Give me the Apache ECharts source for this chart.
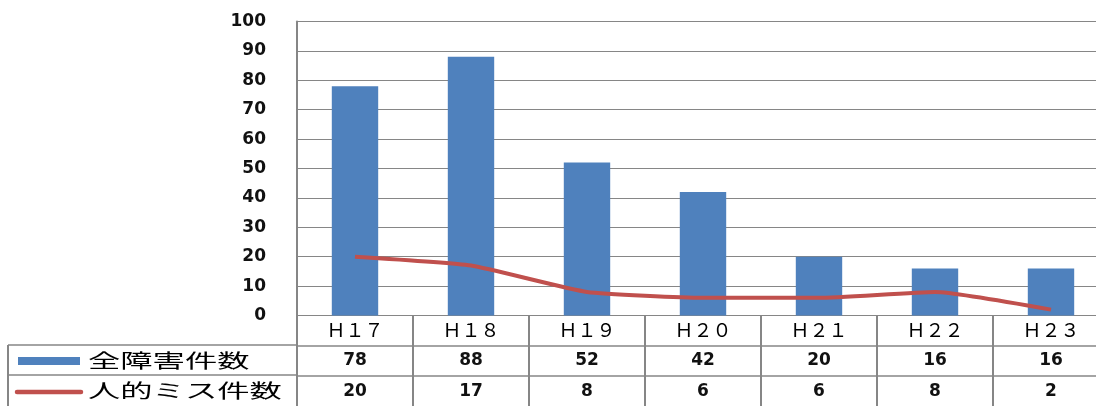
<!DOCTYPE html>
<html>
<head>
<meta charset="utf-8">
<script src="https://cdn.jsdelivr.net/npm/echarts@6/dist/echarts.min.js"></script>
<style>
html,body{margin:0;padding:0;background:#fff;}
#chart{width:1096px;height:406px;}
</style>
</head>
<body>
<div id="chart"></div>
<script>
const categories = ['Ｈ１７','Ｈ１８','Ｈ１９','Ｈ２０','Ｈ２１','Ｈ２２','Ｈ２３'];
const allFaults = [78, 88, 52, 42, 20, 16, 16];
const humanErrors = [20, 17, 8, 6, 6, 8, 2];
const seriesNames = ['全障害件数', '人的ミス件数'];
const yMin = 0, yMax = 100, yStep = 10;

const gray = '#868686';
const blue = '#4F81BD';
const red = '#C0504D';
const numFont = 'DejaVu Sans';
const jpFont = 'Noto Sans CJK JP';

const chart = echarts.init(document.getElementById('chart'));
chart.setOption({
  animation: false,
  backgroundColor: '#fff',
  grid: {left: 297, top: 21.5, right: -13, bottom: 90.5, containLabel: false, outerBoundsMode: 'none'},
  xAxis: [
    {
      type: 'category', data: categories, position: 'bottom',
      axisLine: {lineStyle: {color: gray, width: 1}},
      axisTick: {show: true, length: 91, lineStyle: {color: gray, width: 2}},
      axisLabel: {fontFamily: jpFont, fontSize: 19, color: '#000', margin: 5}
    },
    {
      type: 'category', data: categories, position: 'bottom', offset: 30,
      axisLine: {lineStyle: {color: gray, width: 1.5}},
      axisTick: {show: false},
      axisLabel: {fontFamily: numFont, fontWeight: 'bold', fontSize: 17, color: '#111', margin: 7,
        formatter: (v, i) => String(allFaults[i])}
    },
    {
      type: 'category', data: categories, position: 'bottom', offset: 60,
      axisLine: {lineStyle: {color: gray, width: 1.5}},
      axisTick: {show: false},
      axisLabel: {fontFamily: numFont, fontWeight: 'bold', fontSize: 17, color: '#111', margin: 8,
        formatter: (v, i) => String(humanErrors[i])}
    }
  ],
  yAxis: {
    type: 'value', min: yMin, max: yMax, interval: yStep,
    axisLine: {show: true, lineStyle: {color: gray, width: 2}},
    axisTick: {show: false},
    splitLine: {lineStyle: {color: gray, width: 1}},
    axisLabel: {fontFamily: numFont, fontWeight: 'bold', fontSize: 17, color: '#111', margin: 31}
  },
  series: [
    {
      name: seriesNames[0], type: 'bar', data: allFaults, xAxisIndex: 0,
      barWidth: '40%', itemStyle: {color: blue}
    },
    {
      name: seriesNames[1], type: 'line', data: humanErrors, xAxisIndex: 0,
      smooth: 0.15, symbol: 'none', lineStyle: {color: red, width: 4}, z: 5
    }
  ],
  graphic: [
    {type: 'line', shape: {x1: 8, y1: 345, x2: 297, y2: 345}, style: {stroke: gray, lineWidth: 1.5}},
    {type: 'line', shape: {x1: 8, y1: 375, x2: 297, y2: 375}, style: {stroke: gray, lineWidth: 1.5}},
    {type: 'line', shape: {x1: 8, y1: 345, x2: 8, y2: 406}, style: {stroke: gray, lineWidth: 2}},
    {type: 'rect', shape: {x: 18, y: 357, width: 62, height: 8}, style: {fill: blue}},
    {type: 'line', shape: {x1: 17, y1: 392, x2: 81, y2: 392}, style: {stroke: red, lineWidth: 4.5, lineCap: 'round'}},
    {type: 'text', x: 88, y: 361, scaleX: 1.7,
      style: {text: seriesNames[0], fontFamily: jpFont, fontSize: 19, fill: '#000', verticalAlign: 'middle'}},
    {type: 'text', x: 88, y: 391, scaleX: 1.7,
      style: {text: seriesNames[1], fontFamily: jpFont, fontSize: 19, fill: '#000', verticalAlign: 'middle'}}
  ]
});
</script>
</body>
</html>
